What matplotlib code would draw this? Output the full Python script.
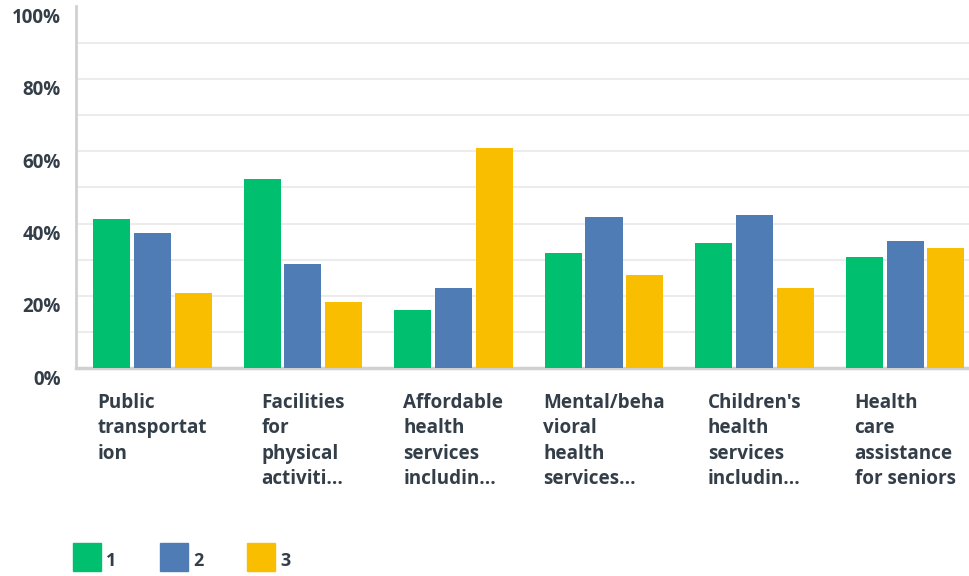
import numpy as np
import matplotlib
matplotlib.use("Agg")
import matplotlib.pyplot as plt
import matplotlib.transforms as mtransforms
from matplotlib.lines import Line2D

plt.rcParams["font.family"] = ["Open Sans", "DejaVu Sans"]

# data (percent)
categories = [
    "Public\ntransportat\nion",
    "Facilities\nfor\nphysical\nactiviti...",
    "Affordable\nhealth\nservices\nincludin...",
    "Mental/beha\nvioral\nhealth\nservices...",
    "Children's\nhealth\nservices\nincludin...",
    "Health\ncare\nassistance\nfor seniors",
]
series_names = ["1", "2", "3"]
rank1 = [41.2, 52.3, 16.1, 31.9, 34.6, 30.8]
rank2 = [37.4, 28.8, 22.2, 41.8, 42.4, 35.2]
rank3 = [20.8, 18.3, 60.9, 25.8, 22.2, 33.2]
colors = ["#00bf6f", "#507cb6", "#f9be00"]
text_color = "#333e48"

fig = plt.figure(figsize=(9.69, 5.76), dpi=100)
ax = fig.add_axes([76 / 969, 1 - 368.3 / 576, 1 - 76 / 969, 362 / 576])

x = np.arange(len(categories))
offsets = [-0.272, 0.0, 0.272]
for vals, off, c in zip([rank1, rank2, rank3], offsets, colors):
    ax.bar(x + off, vals, width=0.246, color=c, zorder=3)

# light horizontal grid
for g in range(10, 100, 10):
    ax.axhline(g, color="#ececec", lw=1.5, zorder=1)

ax.set_ylim(0, 100)
ax.set_xlim(-0.508, 5.425)

ax.set_yticks(range(0, 101, 20))
ax.set_yticklabels([f"{v}%" for v in range(0, 101, 20)], fontsize=13.5,
                   color=text_color, fontweight="bold")
ax.tick_params(axis="y", length=0, pad=11)
shift = mtransforms.ScaledTranslation(0, -0.09, fig.dpi_scale_trans)
for lab in ax.get_yticklabels():
    lab.set_transform(lab.get_transform() + shift)

ax.set_xticks(x)
ax.set_xticklabels(categories, fontsize=13.6, color=text_color,
                   fontweight="bold", ma="left", linespacing=1.37)
ax.tick_params(axis="x", length=0, pad=17.5)

for s in ["top", "right"]:
    ax.spines[s].set_visible(False)
ax.spines["left"].set_color("#d0d0d0")
ax.spines["left"].set_linewidth(2)
ax.spines["bottom"].set_color("#d0d0d0")
ax.spines["bottom"].set_linewidth(2.5)

handles = [Line2D([], [], marker="s", linestyle="none", markersize=20,
                  markerfacecolor=c, markeredgecolor=c) for c in colors]
fig.legend(handles, series_names, loc="center left",
           bbox_to_anchor=(73 / 969, (576 - 560) / 576), ncol=3,
           frameon=False, borderpad=0, borderaxespad=0,
           handlelength=1.55, handleheight=1.55, handletextpad=0.3,
           columnspacing=2.4, prop={"size": 13, "weight": "bold"},
           labelcolor=text_color)

fig.savefig("out.png", dpi=100)
